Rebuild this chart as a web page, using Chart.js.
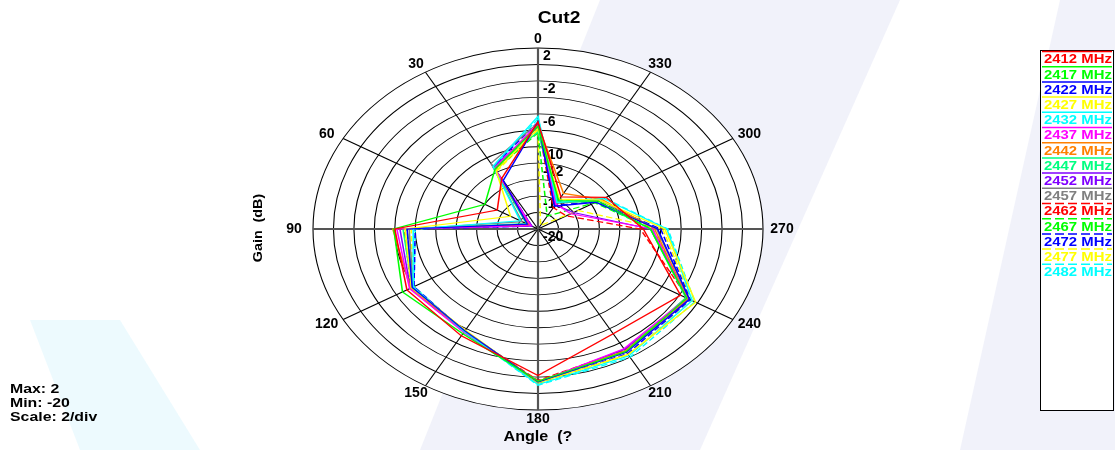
<!DOCTYPE html>
<html>
<head>
<meta charset="utf-8">
<title>Cut2</title>
<script src="https://cdn.jsdelivr.net/npm/chart.js@4.4.0/dist/chart.umd.min.js"></script>
<style>
  html, body { margin: 0; padding: 0; background: #fff; overflow: hidden; }
  #wrap { position: relative; width: 1115px; height: 450px; }
</style>
</head>
<body>
<div id="wrap"><canvas id="chart" width="1115" height="450"></canvas></div>
<script>
// angles go counter-clockwise from the top, every 30 degrees
const angleLabels = ["0", "30", "60", "90", "120", "150", "180", "210", "240", "270", "300", "330"];
const radialTickLabels = [2, -2, -6, -10, -12, -16, -20];

const seriesNames = ["2412 MHz", "2417 MHz", "2422 MHz", "2427 MHz", "2432 MHz",
    "2437 MHz", "2442 MHz", "2447 MHz", "2452 MHz", "2457 MHz",
    "2462 MHz", "2467 MHz", "2472 MHz", "2477 MHz", "2482 MHz"];
const seriesColors = ["#FF0000", "#00FF00", "#0000FF", "#FFFF00", "#00FFFF",
    "#FF00FF", "#FF8000", "#00FF80", "#8000FF", "#808080",
    "#FF0000", "#00FF00", "#0000FF", "#FFFF00", "#00FFFF"];
const seriesDashed = [false, false, false, false, false, false, false, false, false, false,
    true, true, true, true, true];

// gain in dB at 0, 30, 60 ... 330 degrees
const gain2412 = [-7.0, -12.9, -15.4, -6.0, -5.2, -5.0, -2.2, -5.3, -3.9, -9.7, -12.3, -15.5];
const gain2417 = [-7.5, -11.6, -14.0, -5.9, -4.7, -5.3, -1.5, -2.8, -3.2, -9.0, -13.2, -16.0];
const gain2422 = [-7.0, -13.2, -18.8, -7.2, -5.8, -5.7, -1.4, -2.7, -2.9, -8.3, -13.5, -16.8];
const gain2427 = [-7.8, -11.8, -16.9, -7.0, -5.7, -5.8, -1.3, -2.4, -2.2, -7.6, -13.0, -15.8];
const gain2432 = [-6.3, -11.2, -18.0, -7.8, -5.9, -5.6, -1.1, -2.2, -2.6, -7.4, -12.6, -16.3];
const gain2437 = [-7.2, -11.5, -19.2, -6.2, -5.5, -5.5, -1.4, -3.2, -3.2, -8.8, -16.3, -16.5];
const gain2442 = [-7.4, -11.6, -19.0, -5.8, -5.6, -5.6, -1.5, -2.9, -3.1, -8.6, -12.8, -15.0];
const gain2447 = [-8.2, -11.4, -18.7, -6.8, -5.8, -5.7, -1.4, -2.9, -3.3, -9.0, -13.4, -16.2];
const gain2452 = [-7.6, -11.3, -19.3, -6.5, -5.6, -5.6, -1.4, -3.1, -3.0, -9.0, -16.0, -16.6];
const gain2457 = [-7.1, -10.8, -18.2, -7.4, -5.9, -5.5, -1.3, -2.8, -2.9, -8.4, -13.0, -16.4];
const gain2462 = [-7.3, -11.6, -19.0, -6.9, -5.7, -5.6, -1.6, -3.0, -3.0, -10.0, -16.8, -17.0];
const gain2467 = [-8.3, -11.7, -19.0, -7.2, -5.8, -5.7, -1.4, -2.8, -3.0, -8.8, -13.6, -18.2];
const gain2472 = [-7.0, -11.2, -19.3, -8.0, -6.0, -5.6, -1.3, -2.5, -2.8, -8.0, -13.3, -16.7];
const gain2477 = [-8.0, -11.9, -19.0, -7.6, -5.9, -5.7, -1.2, -2.3, -2.6, -7.8, -15.5, -19.5];
const gain2482 = [-6.6, -11.3, -19.0, -8.0, -6.0, -5.6, -1.0, -2.0, -2.3, -7.3, -12.5, -16.0];

const seriesValues = [gain2412, gain2417, gain2422, gain2427, gain2432, gain2437, gain2442,
    gain2447, gain2452, gain2457, gain2462, gain2467, gain2472, gain2477, gain2482];

// where the polar plot sits on the page (it is drawn as an ellipse)
const CX = 538, CY = 229, RX = 225, RY = 181;
const TEXT_STRETCH = 1.22;

function drawText(ctx, text, x, y, font, color, align, stretch, rotate) {
    ctx.save();
    ctx.translate(x, y);
    if (rotate) ctx.rotate(rotate);
    ctx.scale(stretch || 1, 1);
    ctx.font = font;
    ctx.fillStyle = color;
    ctx.textAlign = align || "center";
    ctx.textBaseline = "middle";
    ctx.fillText(text, 0, 0);
    ctx.restore();
}

// faint watermark shapes behind the plot
function drawWatermark(ctx) {
    const shapes = [
        { fill: "rgba(214,217,240,0.35)", pts: [[600, 0], [900, 0], [700, 450], [420, 450]] },
        { fill: "rgba(214,217,240,0.35)", pts: [[1060, 0], [1115, 0], [1115, 450], [960, 450]] },
        { fill: "rgba(215,244,252,0.45)", pts: [[30, 320], [120, 320], [200, 450], [80, 450]] },
    ];
    ctx.save();
    shapes.forEach((sh) => {
        ctx.beginPath();
        sh.pts.forEach((p, i) => (i ? ctx.lineTo(p[0], p[1]) : ctx.moveTo(p[0], p[1])));
        ctx.closePath();
        ctx.fillStyle = sh.fill;
        ctx.fill();
    });
    ctx.restore();
}

// squash the round radar into the ellipse, mirrored so angles run counter-clockwise
const ellipsePlugin = {
    id: "ellipse",
    beforeDraw(chart) {
        const ctx = chart.ctx;
        const s = chart.scales.r;
        drawWatermark(ctx);
        ctx.save();
        ctx.translate(CX, CY);
        ctx.scale(-RX / s.drawingArea, RY / s.drawingArea);
        ctx.translate(-s.xCenter, -s.yCenter);
        ctx.beginPath();
        ctx.arc(s.xCenter, s.yCenter, s.drawingArea, 0, Math.PI * 2);
        ctx.fillStyle = "#fff";
        ctx.fill();
    },
    beforeDatasetsDraw(chart) {
        const ctx = chart.ctx;
        const s = chart.scales.r;
        const dpr = chart.currentDevicePixelRatio;
        ctx.save();
        ctx.setTransform(dpr, 0, 0, dpr, 0, 0);
        radialTickLabels.forEach((v) => {
            const d = s.getDistanceFromCenterForValue(v) * RY / s.drawingArea;
            drawText(ctx, String(v), CX + 5, CY - d + 8.5, "bold 14px 'Liberation Sans', Arial", "#000", "left");
        });
        ctx.restore();
    },
    afterDraw(chart) {
        const ctx = chart.ctx;
        const s = chart.scales.r;
        ctx.restore();

        // angle labels round the outside
        angleLabels.forEach((lab, i) => {
            const p = s.getPointPosition(i, s.drawingArea);
            const x = CX - (p.x - s.xCenter) / s.drawingArea * 244;
            const y = CY + (p.y - s.yCenter) / s.drawingArea * 190;
            drawText(ctx, lab, x, y, "bold 14px 'Liberation Sans', Arial", "#000", "center");
        });

        drawText(ctx, "Cut2", 559, 19, "bold 16px 'Liberation Sans', Arial", "#000", "center", 1.2);
        drawText(ctx, "Gain  (dB)", 258, 228, "bold 13px 'Liberation Sans', Arial", "#000", "center", 1.1, -Math.PI / 2);
        drawText(ctx, "Angle  (?", 538, 437, "bold 14px 'Liberation Sans', Arial", "#000", "center", 1.15);

        drawText(ctx, "Max: 2", 10, 389, "bold 13px 'Liberation Sans', Arial", "#000", "left", TEXT_STRETCH);
        drawText(ctx, "Min: -20", 10, 403, "bold 13px 'Liberation Sans', Arial", "#000", "left", TEXT_STRETCH);
        drawText(ctx, "Scale: 2/div", 10, 417, "bold 13px 'Liberation Sans', Arial", "#000", "left", TEXT_STRETCH);

        // legend box
        ctx.save();
        ctx.fillStyle = "#fff";
        ctx.fillRect(1040, 50, 73, 360);
        ctx.strokeStyle = "#000";
        ctx.lineWidth = 1;
        ctx.strokeRect(1040.5, 50.5, 73, 360);
        seriesNames.forEach((name, i) => {
            const y = 60 + i * 15.2;
            ctx.beginPath();
            ctx.strokeStyle = seriesColors[i];
            ctx.lineWidth = 1.5;
            ctx.setLineDash(seriesDashed[i] ? [9, 4] : []);
            ctx.moveTo(1042, y - 8.5);
            ctx.lineTo(1112, y - 8.5);
            ctx.stroke();
            ctx.setLineDash([]);
            drawText(ctx, name, 1044, y, "bold 12px 'Liberation Sans', Arial", seriesColors[i], "left", 1.24);
        });
        ctx.restore();
    }
};

const ctx = document.getElementById("chart").getContext("2d");

new Chart(ctx, {
    type: "radar",
    data: {
        labels: angleLabels,
        datasets: seriesValues.map((vals, i) => ({
            label: seriesNames[i],
            data: vals,
            borderColor: seriesColors[i],
            borderWidth: 1.4,
            borderDash: seriesDashed[i] ? [6, 3] : [],
            fill: false,
            pointRadius: 0,
            tension: 0,
        })),
    },
    options: {
        responsive: false,
        animation: false,
        layout: { padding: 20 },
        plugins: {
            legend: { display: false },
            title: { display: false },
            tooltip: { enabled: false },
        },
        scales: {
            r: {
                min: -20,
                max: 2,
                ticks: { stepSize: 2, display: false },
                pointLabels: { display: false },
                grid: { circular: true, color: "#000", lineWidth: 1 },
                angleLines: {
                    color: (c) => (c.index % 3 === 0 ? "#555" : "#000"),
                    lineWidth: (c) => (c.index % 3 === 0 ? 2 : 1),
                },
            },
        },
    },
    plugins: [ellipsePlugin],
});
</script>
</body>
</html>
